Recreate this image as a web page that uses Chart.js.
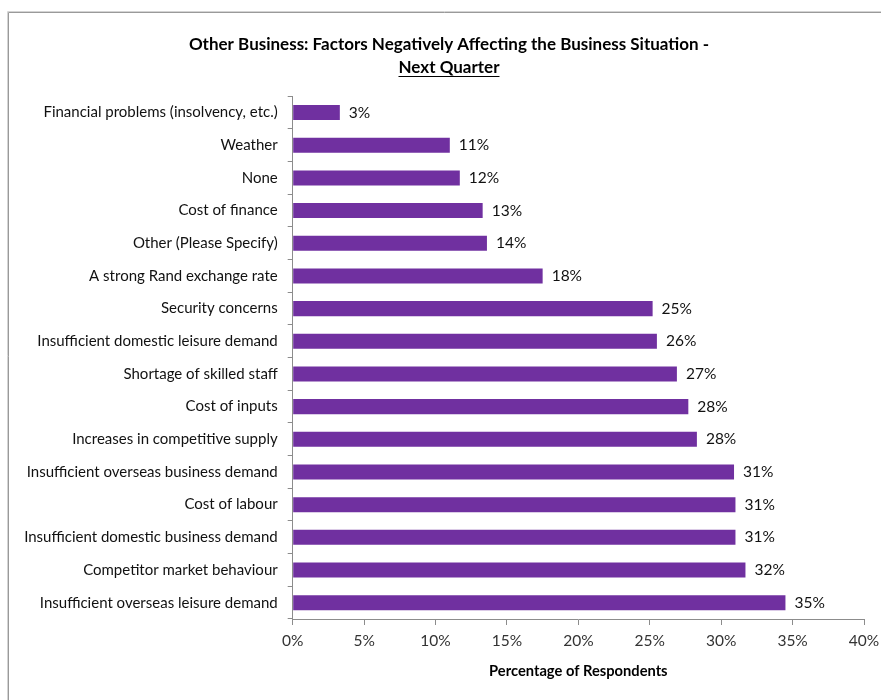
<!DOCTYPE html>
<html>
<head>
<meta charset="utf-8">
<script src="https://cdn.jsdelivr.net/npm/chart.js@4"></script>
<style>
html,body{margin:0;padding:0;background:#fff;}
#wrap{width:881px;height:700px;position:relative;}
</style>
</head>
<body>
<div id="wrap"><canvas id="c" width="881" height="700"></canvas></div>
<script>
const categories = [
  "Financial problems (insolvency, etc.)",
  "Weather",
  "None",
  "Cost of finance",
  "Other (Please Specify)",
  "A strong Rand exchange rate",
  "Security concerns",
  "Insufficient domestic leisure demand",
  "Shortage of skilled staff",
  "Cost of inputs",
  "Increases in competitive supply",
  "Insufficient overseas business demand",
  "Cost of labour",
  "Insufficient domestic business demand",
  "Competitor market behaviour",
  "Insufficient overseas leisure demand"
];
const percentages = [3.3, 11.0, 11.7, 13.3, 13.6, 17.5, 25.2, 25.5, 26.9, 27.7, 28.3, 30.9, 31.0, 31.0, 31.7, 34.5];
const tickValues = [0, 5, 10, 15, 20, 25, 30, 35, 40];
const titleLines = ["Other Business: Factors Negatively Affecting the Business Situation -", "Next Quarter"];
const xAxisTitle = "Percentage of Respondents";

const FONT = "Lato";

const framePlugin = {
  id: 'frame',
  beforeDraw(chart) {
    const ctx = chart.ctx;
    ctx.save();
    ctx.lineWidth = 1;
    ctx.strokeStyle = '#d4d4d4';
    ctx.beginPath();
    ctx.moveTo(7.5, 700); ctx.lineTo(7.5, 11.5); ctx.lineTo(881, 11.5);
    ctx.stroke();
    ctx.strokeStyle = '#9a9a9a';
    ctx.beginPath();
    ctx.moveTo(8.5, 700); ctx.lineTo(8.5, 12.5); ctx.lineTo(881, 12.5);
    ctx.stroke();
    ctx.restore();
  }
};

const valueLabelPlugin = {
  id: 'valueLabels',
  afterDatasetsDraw(chart) {
    const ctx = chart.ctx;
    const meta = chart.getDatasetMeta(0);
    const data = chart.data.datasets[0].data;
    ctx.save();
    ctx.font = "15.5px " + FONT;
    ctx.fillStyle = '#111';
    ctx.textAlign = 'left';
    ctx.textBaseline = 'middle';
    meta.data.forEach((bar, i) => {
      ctx.fillText(Math.round(data[i]) + '%', bar.x + 9, bar.y);
    });
    ctx.restore();
  }
};

const underlinePlugin = {
  id: 'titleUnderline',
  afterDraw(chart) {
    const tb = chart.titleBlock;
    if (!tb) return;
    const opts = chart.options.plugins.title;
    const size = opts.font.size;
    const lh = size * opts.font.lineHeight;
    const ctx = chart.ctx;
    ctx.save();
    ctx.font = "bold " + size + "px " + FONT;
    const w = ctx.measureText(titleLines[1]).width;
    const cx = (tb.left + tb.right) / 2;
    const y = tb.top + opts.padding.top + lh * 1.5 + size * 0.5;
    ctx.strokeStyle = '#000';
    ctx.lineWidth = 1;
    ctx.beginPath();
    ctx.moveTo(cx - w / 2, Math.round(y) + 0.5);
    ctx.lineTo(cx + w / 2, Math.round(y) + 0.5);
    ctx.stroke();
    ctx.restore();
  }
};

new Chart(document.getElementById('c'), {
  type: 'bar',
  data: {
    labels: categories,
    datasets: [{
      data: percentages,
      backgroundColor: '#7030A0',
      borderWidth: 0,
      barPercentage: 0.46,
      categoryPercentage: 1.0
    }]
  },
  options: {
    indexAxis: 'y',
    responsive: false,
    animation: false,
    devicePixelRatio: 1,
    layout: { padding: { left: 34, right: 17, top: 0, bottom: 10 } },
    plugins: {
      legend: { display: false },
      tooltip: { enabled: false },
      title: {
        display: true,
        text: titleLines,
        color: '#000',
        font: { family: FONT, size: 17, weight: 'bold', lineHeight: 1.36 },
        padding: { top: 33, bottom: 17 }
      }
    },
    scales: {
      x: {
        type: 'linear',
        min: 0,
        max: 40,
        afterBuildTicks(scale) { scale.ticks = tickValues.map(v => ({ value: v })); },
        afterFit(scale) {
          scale.height = 71;
          scale.paddingLeft = 0;
          scale.paddingRight = 0;
        },
        ticks: {
          callback: v => v + '%',
          color: '#333',
          font: { family: FONT, size: 15.5 },
          padding: 7,
          maxRotation: 0
        },
        grid: { display: true, drawOnChartArea: false, drawTicks: true, tickLength: 6, color: '#8c8c8c' },
        border: { display: true, color: '#8c8c8c' },
        title: {
          display: true,
          text: xAxisTitle,
          color: '#000',
          font: { family: FONT, size: 14.7, weight: 'bold', lineHeight: 1.2 },
          padding: { top: 0, bottom: 10 }
        }
      },
      y: {
        afterFit(scale) {
          scale.width = 292.7 - 34;
          scale.paddingTop = 0;
          scale.paddingBottom = 0;
          scale._computeLabelArea = () => undefined;
        },
        ticks: {
          color: '#111',
          font: { family: FONT, size: 15 },
          padding: 10,
          autoSkip: false
        },
        grid: { display: true, drawOnChartArea: false, drawTicks: true, tickLength: 5, color: '#8c8c8c', offset: true },
        border: { display: true, color: '#8c8c8c' }
      }
    }
  },
  plugins: [framePlugin, valueLabelPlugin, underlinePlugin]
});
</script>
</body>
</html>
